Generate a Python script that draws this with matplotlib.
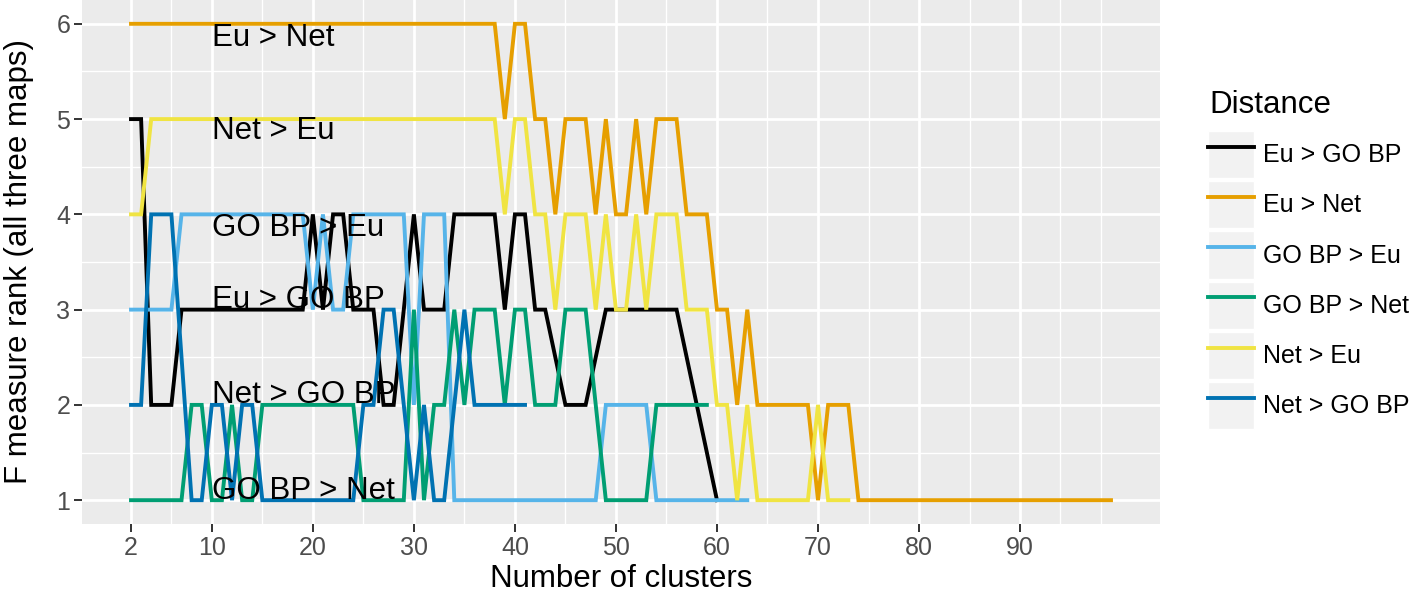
import numpy as np
import matplotlib.pyplot as plt
from matplotlib.patches import Rectangle
from matplotlib.lines import Line2D
from matplotlib.legend_handler import HandlerTuple

plt.rcParams['font.family'] = ['Liberation Sans', 'DejaVu Sans']

# Rango de F-measure por numero de clusters (solo vertices)
eu_gobp_n = [2, 3, 4, 6, 7, 19, 20, 21, 22, 23, 24, 26, 27, 28, 30, 31, 33, 34, 38, 39, 40, 41, 42, 43, 45, 47, 49, 56, 60]
eu_gobp_r = [5, 5, 2, 2, 3, 3, 4, 3, 4, 4, 3, 3, 2, 2, 4, 3, 3, 4, 4, 3, 4, 4, 3, 3, 2, 2, 3, 3, 1]

eu_net_n = [2, 38, 39, 40, 41, 42, 43, 44, 45, 47, 48, 49, 50, 51, 52, 53, 54, 56, 57, 59, 60, 61, 62, 63, 64, 69, 70, 71, 73, 74, 99]
eu_net_r = [6, 6, 5, 6, 6, 5, 5, 4, 5, 5, 4, 5, 4, 4, 5, 4, 5, 5, 4, 4, 3, 3, 2, 3, 2, 2, 1, 2, 2, 1, 1]

gobp_eu_n = [2, 6, 7, 19, 20, 21, 22, 23, 24, 29, 30, 31, 33, 34, 48, 49, 53, 54, 63]
gobp_eu_r = [3, 3, 4, 4, 3, 4, 3, 3, 4, 4, 2, 4, 4, 1, 1, 2, 2, 1, 1]

gobp_net_n = [2, 7, 8, 9, 10, 11, 12, 13, 14, 15, 24, 25, 29, 30, 31, 32, 33, 34, 35, 36, 38, 39, 40, 41, 42, 44, 45, 47, 49, 53, 54, 59]
gobp_net_r = [1, 1, 2, 2, 1, 1, 2, 1, 1, 2, 2, 1, 1, 3, 1, 2, 2, 3, 2, 3, 3, 2, 3, 3, 2, 2, 3, 3, 1, 1, 2, 2]

net_eu_n = [2, 3, 4, 38, 39, 40, 41, 42, 43, 44, 45, 47, 48, 49, 50, 51, 52, 53, 54, 56, 57, 59, 60, 61, 62, 63, 64, 69, 70, 71, 73]
net_eu_r = [4, 4, 5, 5, 4, 5, 5, 4, 4, 3, 4, 4, 3, 4, 3, 3, 4, 3, 4, 4, 3, 3, 2, 2, 1, 2, 1, 1, 2, 1, 1]

net_gobp_n = [2, 3, 4, 6, 8, 9, 10, 11, 12, 13, 14, 15, 24, 25, 26, 27, 28, 29, 30, 31, 32, 33, 34, 35, 36, 41]
net_gobp_r = [2, 2, 4, 4, 1, 1, 2, 2, 1, 2, 2, 1, 1, 2, 2, 3, 3, 2, 1, 2, 1, 1, 2, 3, 2, 2]

etiquetas = ['Eu > GO BP', 'Eu > Net', 'GO BP > Eu', 'GO BP > Net', 'Net > Eu', 'Net > GO BP']
colores = ['#000000', '#E69F00', '#56B4E9', '#009E73', '#F0E442', '#0072B2']
series = [(eu_gobp_n, eu_gobp_r), (eu_net_n, eu_net_r), (gobp_eu_n, gobp_eu_r),
          (gobp_net_n, gobp_net_r), (net_eu_n, net_eu_r), (net_gobp_n, net_gobp_r)]

# Textos dentro del panel
anot_txt = ['Eu > Net', 'Net > Eu', 'GO BP > Eu', 'Eu > GO BP', 'Net > GO BP', 'GO BP > Net']
anot_y = [5.85, 4.87, 3.86, 3.1, 2.1, 1.1]

fig = plt.figure(figsize=(14.18, 5.97), dpi=100)
ax = fig.add_axes([82 / 1418, 73 / 597, (1160 - 82) / 1418, 524 / 597])
ax.set_facecolor('#EBEBEB')
for s in ax.spines.values():
    s.set_visible(False)

# Dibujo las lineas
for i in range(len(series)):
    xs, ys = series[i]
    ax.plot(xs, ys, color=colores[i], lw=2.8, solid_joinstyle='miter', zorder=3)

for t, y in zip(anot_txt, anot_y):
    ax.text(10, y, t, fontsize=22.5, va='center', ha='left', color='black', zorder=4)

ax.set_xlim(-2.85, 103.85)
ax.set_ylim(0.75, 6.25)
ax.set_xticks([2, 10, 20, 30, 40, 50, 60, 70, 80, 90])
ax.set_yticks([1, 2, 3, 4, 5, 6])
ax.set_xticks([6, 15, 25, 35, 45, 55, 65, 75, 85, 94, 98], minor=True)
ax.set_yticks([1.5, 2.5, 3.5, 4.5, 5.5], minor=True)
ax.grid(which='major', color='white', lw=2.0, zorder=0)
ax.grid(which='minor', color='white', lw=1.0, zorder=0)
ax.set_axisbelow(True)
ax.tick_params(which='major', length=5.5, width=1.4, color='#333333', labelsize=18, labelcolor='#4D4D4D', pad=3)
ax.tick_params(which='minor', length=0)
ax.set_xlabel('Number of clusters', fontsize=22.5, labelpad=3)
ax.set_ylabel('F measure rank (all three maps)', fontsize=22.5, labelpad=16)

# Leyenda con fondo gris en cada clave
fig.text(1209 / 1418, 1 - 105 / 597, 'Distance', fontsize=22.5, va='center', ha='left')
handles = []
for c in colores:
    handles.append((Rectangle((0, 0), 1, 1, facecolor='#F2F2F2', edgecolor='white'),
                    Line2D([], [], color=c, lw=2.8)))
leg = fig.legend(handles, etiquetas, handler_map={tuple: HandlerTuple(ndivide=1, pad=0)},
                 loc='upper left', bbox_to_anchor=(1208 / 1418, 1 - 131 / 597),
                 frameon=False, fontsize=18,
                 handlelength=1.85, handleheight=2.53, labelspacing=0.12,
                 handletextpad=0.35, borderpad=0, borderaxespad=0)

fig.savefig('out.png', dpi=100)
